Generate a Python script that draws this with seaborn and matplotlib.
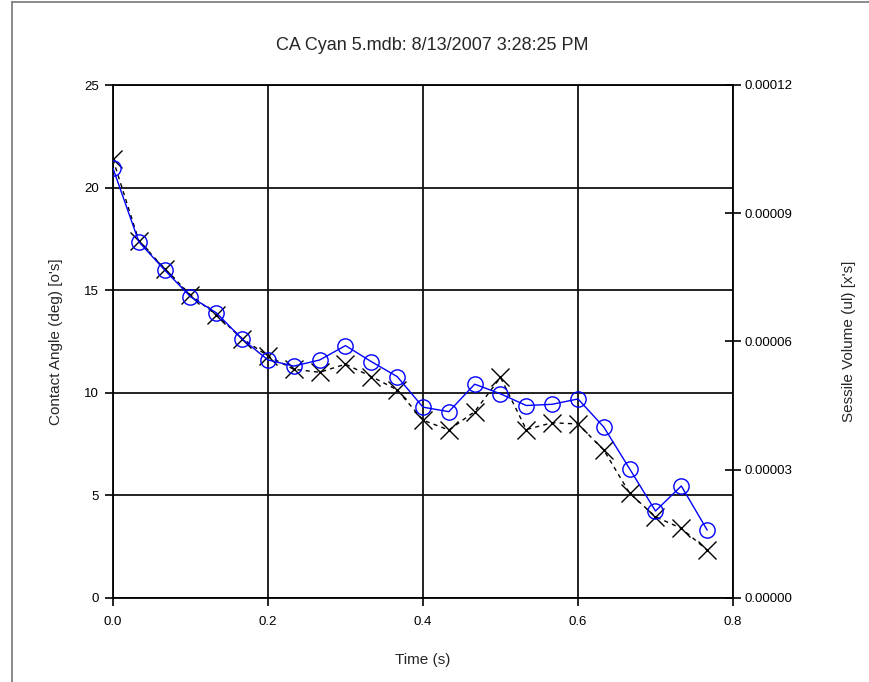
"""
Contact angle and sessile volume over time, CA Cyan 5.mdb.
"""

import matplotlib.pyplot as plt
import pandas as pd
import seaborn as sns
from matplotlib.lines import Line2D
from matplotlib.ticker import FormatStrFormatter, MultipleLocator


TITLE = "CA Cyan 5.mdb: 8/13/2007 3:28:25 PM"

time_s = [
    0.0, 0.0333, 0.0667, 0.1, 0.1333, 0.1667, 0.2, 0.2333,
    0.2667, 0.3, 0.3333, 0.3667, 0.4, 0.4333, 0.4667, 0.5,
    0.5333, 0.5667, 0.6, 0.6333, 0.6667, 0.7, 0.7333, 0.7667,
]

contact_angle = [
    20.94, 17.36, 15.98, 14.68, 13.90, 12.62, 11.60, 11.30,
    11.60, 12.30, 11.52, 10.79, 9.30, 9.08, 10.42, 9.95,
    9.38, 9.44, 9.70, 8.33, 6.29, 4.24, 5.46, 3.31,
]

sessile_volume = [
    1.026e-4, 8.36e-5, 7.70e-5, 7.09e-5, 6.62e-5, 6.07e-5, 5.66e-5, 5.35e-5,
    5.28e-5, 5.47e-5, 5.18e-5, 4.87e-5, 4.16e-5, 3.93e-5, 4.36e-5, 5.16e-5,
    3.94e-5, 4.10e-5, 4.07e-5, 3.46e-5, 2.45e-5, 1.90e-5, 1.63e-5, 1.12e-5,
]


def main() -> None:
    sns.set_style("white")
    plt.rcParams["font.family"] = ["Liberation Sans", "DejaVu Sans"]

    df = pd.DataFrame({
        "Time": time_s,
        "Angle": contact_angle,
        "Volume": sessile_volume,
    })

    fig = plt.figure(figsize=(8.7, 6.82), dpi=100)
    ax = fig.add_axes([113 / 870, 84 / 682, 620 / 870, 513 / 682])
    ax2 = ax.twinx()

    # volume series (right axis), black dashed with x markers
    sns.lineplot(
        data=df, x="Time", y="Volume", ax=ax2,
        color="black", linestyle=(0, (3, 3)), linewidth=1.0,
        marker="x", markersize=13, markeredgewidth=1.0,
        markeredgecolor="black", zorder=3
    )

    # contact angle series (left axis), blue with open circles
    sns.lineplot(
        data=df, x="Time", y="Angle", ax=ax,
        color="#0000ff", linewidth=1.0,
        marker="o", markersize=11, markerfacecolor="none",
        markeredgecolor="#0000ff", markeredgewidth=1.0, zorder=4
    )
    ax.set_zorder(ax2.get_zorder() + 1)
    ax.patch.set_visible(False)

    ax.set_xlim(0, 0.8)
    ax.set_ylim(0, 25)
    ax2.set_ylim(0, 0.00012)
    ax.xaxis.set_major_locator(MultipleLocator(0.2))
    ax.yaxis.set_major_locator(MultipleLocator(5))
    ax2.yaxis.set_major_locator(MultipleLocator(0.00003))
    ax.xaxis.set_major_formatter(FormatStrFormatter("%.1f"))
    ax2.yaxis.set_major_formatter(FormatStrFormatter("%.5f"))

    ax.grid(True, color="#111111", linewidth=1.3)
    ax2.grid(False)

    for spine in ax.spines.values():
        spine.set_color("black")
        spine.set_linewidth(1.3)
    for spine in ax2.spines.values():
        spine.set_visible(False)

    ax.tick_params(
        axis="both", direction="out", length=6, width=1.2,
        colors="black", labelsize=9.5, pad=4,
        bottom=True, left=True
    )
    ax.tick_params(axis="x", pad=7)
    ax2.tick_params(
        axis="y", direction="inout", length=12, width=1.2,
        colors="black", labelsize=9.5, pad=2, right=True
    )

    ax.set_xlabel("Time (s)", fontsize=11, labelpad=18)
    ax.set_ylabel("Contact Angle (deg) [o's]", fontsize=11, labelpad=32)
    ax2.set_ylabel("Sessile Volume (ul) [x's]", fontsize=11, labelpad=36)
    ax.yaxis.set_label_coords(-(113 - 63) / 620, 0.5)

    fig.text(432 / 870, 1 - 45 / 682, TITLE, ha="center", va="center",
             fontsize=13)

    # window frame lines (left and top)
    fig.add_artist(Line2D([12 / 870, 12 / 870], [0, 1 - 2 / 682],
                          color="#777777", linewidth=1.2))
    fig.add_artist(Line2D([12 / 870, 1], [1 - 2 / 682, 1 - 2 / 682],
                          color="#777777", linewidth=1.2))

    fig.savefig("out.png", dpi=100)
    plt.close(fig)


if __name__ == "__main__":
    main()
